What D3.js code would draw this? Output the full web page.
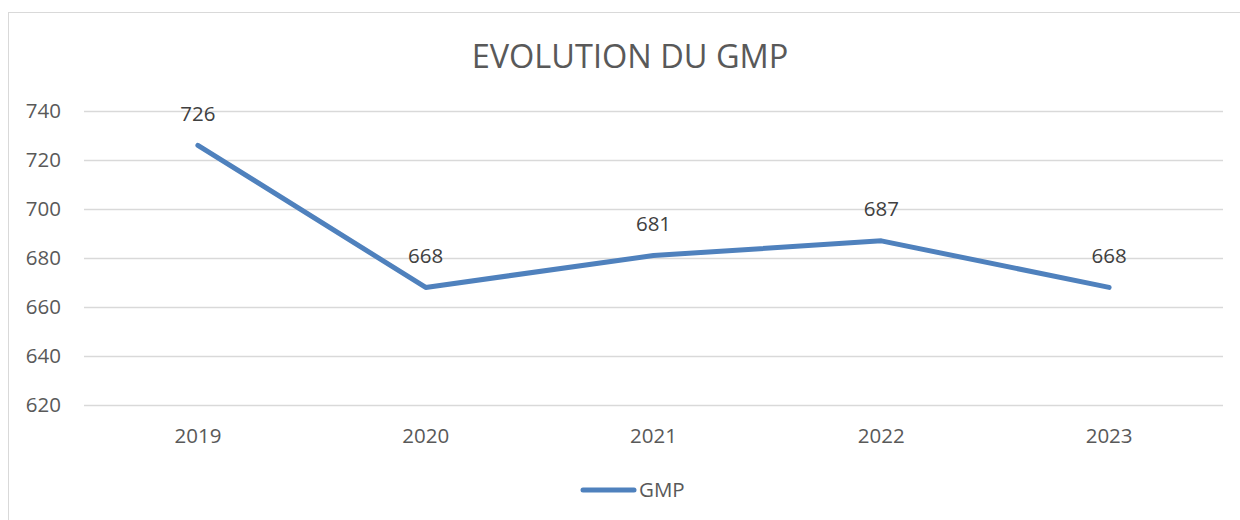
<!DOCTYPE html>
<html><head><meta charset="utf-8">
<script src="https://cdn.jsdelivr.net/npm/d3@7"></script>
<style>body{margin:0;background:#fff}svg{display:block}text{font-family:"Open Sans",sans-serif}</style>
</head><body><svg id="c" width="1240" height="520"></svg>
<script>
const categories = ["2019","2020","2021","2022","2023"];
const gmpValues = [726,668,681,687,668];
const yTicks = [620,640,660,680,700,720,740];
const seriesName = "GMP";
const titleText = "EVOLUTION DU GMP";

const svg = d3.select("#c");
svg.append("rect").attr("x",8.5).attr("y",12.5).attr("width",1300).attr("height",600)
  .attr("fill","#fff").attr("stroke","#d9d9d9").attr("stroke-width",1);

const x = d3.scaleBand().domain(categories).range([84,1223]);
const y = d3.scaleLinear().domain([620,740]).range([405,111]);

svg.append("text").attr("x",630).attr("y",68).attr("text-anchor","middle")
  .attr("font-size",32.5).attr("fill","#595959").text(titleText);

const grid = svg.append("g");
grid.selectAll("line").data(yTicks).join("line")
  .attr("x1",84).attr("x2",1223).attr("y1",d=>Math.round(y(d))+0.5).attr("y2",d=>Math.round(y(d))+0.5)
  .attr("stroke","#d9d9d9").attr("stroke-width",1.5);

const yAxis = svg.append("g").attr("transform","translate(84,0)")
  .call(d3.axisLeft(y).tickValues(yTicks).tickSize(0).tickPadding(23));
yAxis.select(".domain").remove();
yAxis.selectAll("text").attr("font-size",20.5).attr("fill","#595959").attr("font-family","Open Sans");

const xAxis = svg.append("g").attr("transform","translate(0,405)")
  .call(d3.axisBottom(x).tickSize(0).tickPadding(23));
xAxis.select(".domain").remove();
xAxis.selectAll("text").attr("font-size",20.5).attr("fill","#595959").attr("font-family","Open Sans");

const line = d3.line().x((d,i)=>x(categories[i])+x.bandwidth()/2).y(d=>y(d));
svg.append("path").datum(gmpValues).attr("d",line).attr("fill","none")
  .attr("stroke","#4f81bd").attr("stroke-width",5).attr("stroke-linejoin","round").attr("stroke-linecap","round");

svg.append("g").selectAll("text").data(gmpValues).join("text")
  .attr("x",(d,i)=>x(categories[i])+x.bandwidth()/2).attr("y",d=>y(d)-24.5)
  .attr("text-anchor","middle").attr("font-size",20.5).attr("fill","#404040").text(d=>d);

const lg = svg.append("g");
lg.append("line").attr("x1",583).attr("x2",634).attr("y1",490).attr("y2",490)
  .attr("stroke","#4f81bd").attr("stroke-width",5).attr("stroke-linecap","round");
lg.append("text").attr("x",639).attr("y",497).attr("font-size",20.5).attr("fill","#595959").text(seriesName);
</script></body></html>
